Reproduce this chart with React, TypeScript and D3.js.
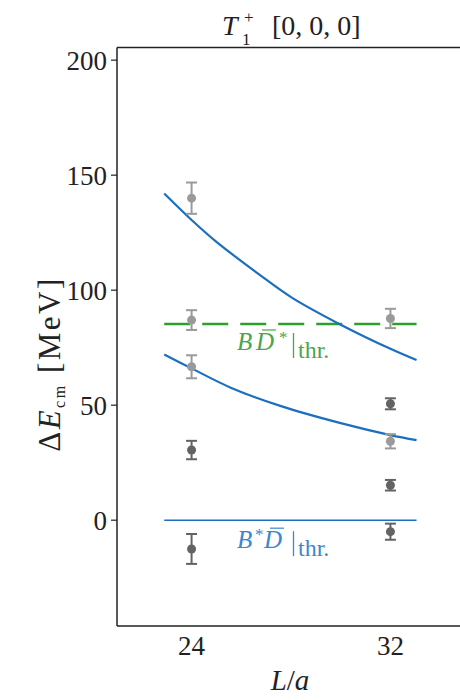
import React from 'react';
import * as d3 from 'd3';

// lattice levels (MeV)
const lightL = [24, 24, 24, 32, 32];
const lightE = [140, 87, 66.7, 87.7, 34.3];
const lightErr = [6.8, 4.3, 5, 4.2, 3.1];

const darkL = [24, 24, 32, 32, 32];
const darkE = [30.5, -12.5, 50.6, 15.2, -5];
const darkErr = [4, 6.5, 2.4, 2.3, 3.5];

// non-interacting curves
const upperL = [22.9, 24, 25, 26.7, 28, 30, 32, 33.05];
const upperE = [142, 130.5, 121, 107, 97, 85, 74.5, 69.6];
const lowerL = [22.9, 24, 25.6, 27.6, 30, 32, 33.05];
const lowerE = [72, 66, 57.5, 49.6, 42.2, 37, 34.8];

const thrRange = [22.9, 33.05];
const thrBDstar = 85.3;
const thrBstarD = 0;

const xTicks = [24, 32];
const yTicks = [0, 50, 100, 150, 200];

const font = '"Liberation Serif", "DejaVu Serif", serif';
const lineBlue = '#1a6fbf';
const green = '#2ca02c';
const ink = '#222';

const App = () => {
  const width = 460;
  const height = 700;
  const left = 117;
  const top = 47.5;
  const bottom = 626;
  const right = 465;

  const x = d3.scaleLinear().domain([21, 35]).range([left, right]);
  const y = d3.scaleLinear().domain([-46, 205.5]).range([bottom, top]);

  const line = d3
    .line<[number, number]>()
    .x((d) => x(d[0]))
    .y((d) => y(d[1]))
    .curve(d3.curveCatmullRom.alpha(0.5));

  const upper = line(upperL.map((l, i) => [l, upperE[i]]));
  const lower = line(lowerL.map((l, i) => [l, lowerE[i]]));

  const errPoint = (l: number, e: number, err: number, color: string, i: number) => (
    <g key={i} stroke={color} strokeWidth={2}>
      <line x1={x(l)} x2={x(l)} y1={y(e - err)} y2={y(e + err)} />
      <line x1={x(l) - 5.5} x2={x(l) + 5.5} y1={y(e - err)} y2={y(e - err)} />
      <line x1={x(l) - 5.5} x2={x(l) + 5.5} y1={y(e + err)} y2={y(e + err)} />
      <circle cx={x(l)} cy={y(e)} r={4.5} fill={color} stroke="none" />
    </g>
  );

  const gy = y(thrBDstar);
  const by = y(thrBstarD);

  return (
    <svg
      width={width}
      height={height}
      style={{ position: 'absolute', left: 0, top: 0, background: '#fff', fontFamily: font }}
    >
      <rect x={0} y={0} width={width} height={height} fill="#fff" />

      {/* title */}
      <g fill={ink} style={{ fontFamily: font }}>
        <text x={222} y={35} fontSize={28} fontStyle="italic">T</text>
        <text x={244} y={23} fontSize={17}>+</text>
        <text x={242} y={45} fontSize={17}>1</text>
        <text x={272} y={35} fontSize={28}>[0, 0, 0]</text>
      </g>

      {/* threshold lines */}
      <line
        x1={x(thrRange[0])}
        x2={x(thrRange[1])}
        y1={by}
        y2={by}
        stroke={lineBlue}
        strokeWidth={1.6}
      />
      <line
        x1={x(thrRange[0])}
        x2={x(thrRange[1])}
        y1={gy}
        y2={gy}
        stroke={green}
        strokeWidth={2.6}
        strokeDasharray="26 12"
      />

      <path d={upper || ''} fill="none" stroke={lineBlue} strokeWidth={2.2} />
      <path d={lower || ''} fill="none" stroke={lineBlue} strokeWidth={2.2} />

      {lightL.map((l, i) => errPoint(l, lightE[i], lightErr[i], '#9a9a9a', i))}
      {darkL.map((l, i) => errPoint(l, darkE[i], darkErr[i], '#636363', i + 10))}

      {/* threshold labels */}
      <g fill="#4aa64a" style={{ fontFamily: font }}>
        <text x={237} y={gy + 26} fontSize={25} fontStyle="italic">B</text>
        <text x={256} y={gy + 26} fontSize={25} fontStyle="italic">D</text>
        <line x1={262} x2={276} y1={gy + 6} y2={gy + 6} stroke="#4aa64a" strokeWidth={1.2} />
        <text x={279} y={gy + 19} fontSize={17}>*</text>
        <line x1={293.5} x2={293.5} y1={gy + 9} y2={gy + 34} stroke="#4aa64a" strokeWidth={1.3} />
        <text x={298} y={gy + 34} fontSize={24}>thr.</text>
      </g>
      <g fill="#3b87cf" style={{ fontFamily: font }}>
        <text x={237} y={by + 28} fontSize={25} fontStyle="italic">B</text>
        <text x={255} y={by + 20} fontSize={17}>*</text>
        <text x={264} y={by + 28} fontSize={25} fontStyle="italic">D</text>
        <line x1={270} x2={284} y1={by + 8} y2={by + 8} stroke="#3b87cf" strokeWidth={1.2} />
        <line x1={293.5} x2={293.5} y1={by + 11} y2={by + 36} stroke="#3b87cf" strokeWidth={1.3} />
        <text x={298} y={by + 36} fontSize={24}>thr.</text>
      </g>

      {/* axes frame */}
      <g stroke={ink} strokeWidth={1.5} fill="none">
        <line x1={left} x2={width} y1={top} y2={top} />
        <line x1={left} x2={width} y1={bottom} y2={bottom} />
        <line x1={left} x2={left} y1={top} y2={bottom} />
      </g>

      {/* y ticks */}
      {yTicks.map((t) => (
        <g key={t}>
          <line x1={left - 6} x2={left} y1={y(t)} y2={y(t)} stroke={ink} strokeWidth={1.2} />
          <text
            x={left - 10}
            y={y(t)}
            dy="0.35em"
            textAnchor="end"
            fontSize={27}
            fill={ink}
            style={{ fontFamily: font }}
          >
            {t}
          </text>
        </g>
      ))}

      {/* x tick labels */}
      {xTicks.map((t) => (
        <text
          key={t}
          x={x(t)}
          y={655}
          textAnchor="middle"
          fontSize={27}
          fill={ink}
          style={{ fontFamily: font }}
        >
          {t}
        </text>
      ))}

      {/* axis labels */}
      <text x={290} y={690} textAnchor="middle" fontSize={29} fill={ink} style={{ fontFamily: font }}>
        <tspan fontStyle="italic">L</tspan>
        <tspan>/</tspan>
        <tspan fontStyle="italic">a</tspan>
      </text>
      <text
        transform="translate(60, 364) rotate(-90)"
        textAnchor="middle"
        fontSize={31}
        fill={ink}
        letterSpacing={2.5}
        style={{ fontFamily: font }}
      >
        <tspan>Δ</tspan>
        <tspan fontStyle="italic">E</tspan>
        <tspan fontSize={16} dy={5}>cm</tspan>
        <tspan dy={-5}> [MeV]</tspan>
      </text>
    </svg>
  );
};

export default App;
